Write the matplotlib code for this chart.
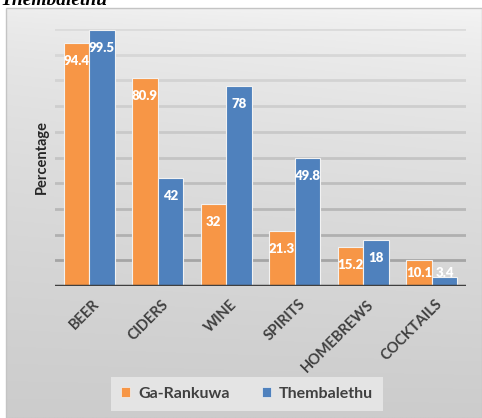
import numpy as np
import matplotlib
matplotlib.use("Agg")
import matplotlib.pyplot as plt
from matplotlib.patches import Rectangle, Patch

categories = ["BEER", "CIDERS", "WINE", "SPIRITS", "HOMEBREWS", "COCKTAILS"]
ga_rankuwa = [94.4, 80.9, 32, 21.3, 15.2, 10.1]
thembalethu = [99.5, 42, 78, 49.8, 18, 3.4]
series_names = ["Ga-Rankuwa", "Thembalethu"]
colors = ["#F79646", "#4F81BD"]
title_text = "Thembalethu"
ylabel = "Percentage"

W, H = 482, 418
fig = plt.figure(figsize=(W / 100, H / 100), dpi=100)
fig.patch.set_facecolor("white")

# background chart area with gradient
bx0, by1 = 6 / W, 1 - 8 / H
bg = fig.add_axes([bx0, 0, 1 - bx0, by1])
ny, nx = 200, 200
yy, xx = np.mgrid[0:1:complex(ny), 0:1:complex(nx)]
val = 0.935 - 0.135 * (yy ** 0.65) + 0.025 * xx * (1 - yy)
bg.imshow(np.dstack([val, val, val]), aspect="auto", extent=[0, 1, 1, 0], interpolation="bilinear")
bg.set_axis_off()
fig.patches.append(Rectangle((bx0, 0), 1 - bx0, by1, transform=fig.transFigure,
                             fill=False, edgecolor="#c4c4c4", lw=1.0, zorder=1))

# title (partly clipped at top, as in the source)
fig.text(1 / W, 1 - 5 / H, title_text, fontsize=14, fontweight="bold", style="italic",
         family="Liberation Serif", va="baseline", ha="left", color="black")

# main axes
ax_l, ax_r = 55 / W, 466 / W
ax_b, ax_t = 1 - 286 / H, 1 - 29 / H
ax = fig.add_axes([ax_l, ax_b, ax_r - ax_l, ax_t - ax_b])
ax.patch.set_alpha(0)
x = np.arange(len(categories))
bw = 0.37
ax.set_xlim(-0.5, len(categories) - 0.5)
ax.set_ylim(0, 100)

# gridlines darkening downward
for g in range(10, 101, 10):
    f = g / 100
    c = 0.55 + (0.86 - 0.55) * f ** 0.5
    ax.axhline(g, color=(c, c, c), lw=2.0, zorder=0)

for i, (vals, col) in enumerate(zip([ga_rankuwa, thembalethu], colors)):
    off = (-0.5 + i) * bw
    ax.bar(x + off, vals, width=bw, color=col, edgecolor="#f2f2f2", lw=0.8, zorder=2)
    for xi, v in zip(x + off, vals):
        yl = v - 7 if v > 14 else 5
        ax.text(xi, yl, f"{v:g}", ha="center", va="center", color="white",
                fontsize=9.5, fontweight="heavy", family="Lato", zorder=3)

ax.axhline(0, color="#404040", lw=2.5, zorder=4)
for s in ax.spines.values():
    s.set_visible(False)
ax.set_yticks([])
ax.set_xticks(x + 0.05)
ax.set_xticklabels(categories, rotation=45, ha="right", rotation_mode="anchor",
                   fontsize=10.5, fontweight="bold", family="Lato", color="#404040")
ax.tick_params(axis="x", length=0, pad=8)
ax.set_ylabel(ylabel, fontsize=10.5, fontweight="bold", family="Lato", color="#262626")
ax.yaxis.set_label_coords((49 - 55) / (466 - 55), 0.5)

handles = [Patch(facecolor=c, edgecolor="#f2f2f2", lw=0.5) for c in colors]
leg = fig.legend(handles, series_names, loc="center", bbox_to_anchor=(247 / W, 1 - 394 / H),
                 ncol=2, frameon=True, fancybox=False, facecolor="#e4e4e4", edgecolor="none",
                 prop={"family": "Lato", "weight": "bold", "size": 11.5},
                 handlelength=0.6, handleheight=0.6, handletextpad=0.5, columnspacing=2.0,
                 borderpad=0.6, labelcolor="#404040")
leg.get_frame().set_alpha(1)

fig.savefig("out.png", dpi=100)
